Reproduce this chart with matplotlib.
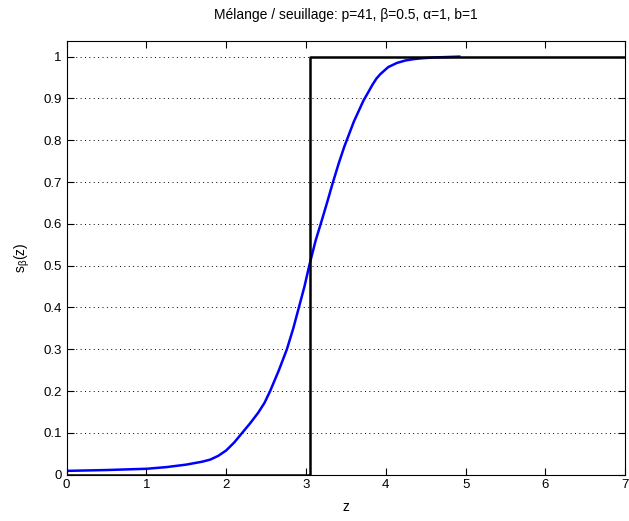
import matplotlib
matplotlib.use('Agg')
import matplotlib.pyplot as plt

# blue curve
z_curve = [0.0, 0.5, 1.0, 1.25, 1.5, 1.7, 1.8, 1.9, 2.0, 2.1, 2.2, 2.3, 2.4, 2.48, 2.55, 2.66, 2.76,
           2.84, 2.91, 2.98, 3.04, 3.12, 3.2, 3.27, 3.33, 3.41, 3.48, 3.55, 3.6, 3.66, 3.72, 3.78,
           3.83, 3.88, 3.93, 4.03, 4.14, 4.25, 4.35, 4.45, 4.6, 4.92]
s_curve = [0.009, 0.011, 0.014, 0.018, 0.024, 0.031, 0.036, 0.045, 0.058, 0.077, 0.10, 0.123, 0.148,
           0.172, 0.20, 0.25, 0.30, 0.35, 0.40, 0.45, 0.50, 0.56, 0.61, 0.655, 0.695, 0.745, 0.785,
           0.82, 0.845, 0.87, 0.895, 0.915, 0.932, 0.947, 0.958, 0.975, 0.985, 0.991, 0.994, 0.996,
           0.998, 1.0]

# black threshold step
z_step = [0.0, 3.05, 3.05, 7.0]
s_step = [0.0, 0.0, 1.0, 1.0]

xticks = [0, 1, 2, 3, 4, 5, 6, 7]
yticks = [0, 0.1, 0.2, 0.3, 0.4, 0.5, 0.6, 0.7, 0.8, 0.9, 1]
ytick_labels = ['0', '0.1', '0.2', '0.3', '0.4', '0.5', '0.6', '0.7', '0.8', '0.9', '1']

plt.rcParams['font.family'] = ['Liberation Sans', 'DejaVu Sans']

fig = plt.figure(figsize=(6.29, 5.21), dpi=100)
ax = fig.add_axes([0.106, 0.089, 0.888, 0.832])

ax.plot(z_curve, s_curve, color='#0000ff', lw=1.8)
ax.plot(z_step, s_step, color='black', lw=1.8)

ax.set_xlim(0, 7)
ax.set_ylim(0, 1.037)
ax.set_xticks(xticks)
ax.set_yticks(yticks)
ax.set_yticklabels(ytick_labels)
ax.tick_params(direction='in', top=True, right=True, labelsize=9.5, length=5, width=0.8)
ax.grid(axis='y', color='black', ls=(0, (1, 3.5)), lw=0.7)
for s in ax.spines.values():
    s.set_linewidth(0.8)

ax.set_title('Mélange / seuillage: p=41, β=0.5, α=1, b=1', fontsize=10, pad=16)
ax.set_xlabel('z', fontsize=10, labelpad=6)
ax.set_ylabel(r'$\mathregular{s_{\beta}(z)}$', fontsize=10, labelpad=8)

fig.savefig('out.png', dpi=100)
